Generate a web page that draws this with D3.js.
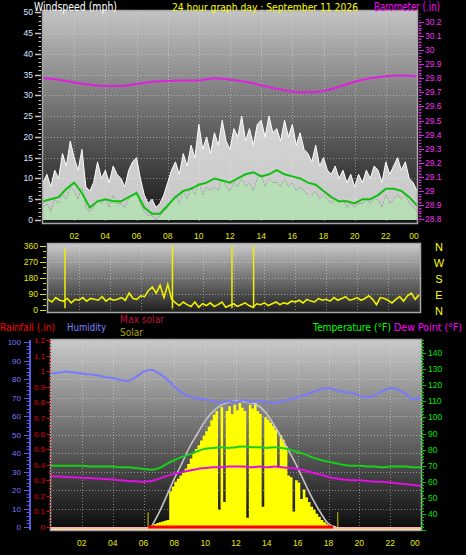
<!DOCTYPE html>
<html><head><meta charset="utf-8">
<script src="https://cdn.jsdelivr.net/npm/d3@7"></script>
<style>
html,body{margin:0;padding:0;background:#000;}
svg{display:block;}
text{font-family:"Liberation Sans","Arial",sans-serif;}
.hd{font-family:"Liberation Sans Narrow","Arial Narrow","DejaVu Sans Condensed",sans-serif;}
</style></head><body>
<svg id="c" width="466" height="555"></svg>
<script>
// ---------------- data ----------------
const hourLabels = ["02","04","06","08","10","12","14","16","18","20","22","00"];
const labelHours = [2,4,6,8,10,12,14,16,18,20,22,24];
const windTicks = [0,5,10,15,20,25,30,35,40,45,50];
const baroTicks = [28.8,28.9,29,29.1,29.2,29.3,29.4,29.5,29.6,29.7,29.8,29.9,30,30.1,30.2];
const dirTicks = [0,90,180,270,360];
const compass = ["N","W","S","E","N"];
const humTicks = [0,10,20,30,40,50,60,70,80,90,100];
const rainTicks = [0,0.1,0.2,0.3,0.4,0.5,0.6,0.7,0.8,0.9,1,1.1,1.2];
const tempTicks = [40,50,60,70,80,90,100,110,120,130,140];

const windStepHours = 0.25;
const windGust = [
 9,11,8,12, 10,16,13,19, 15,12,17,8, 7,9,14,10, 12,9,13,11, 10,8,12,14,
 15,10,6,4, 5,3,4,6, 9,12,14,11, 16,13,18,15, 23,17,20,16, 21,18,24,19,
 17,22,20,25, 19,22,18,23, 24,20,25,21, 22,19,24,20, 23,18,21,17, 16,14,18,13,
 15,12,11,13, 10,12,9,11, 8,11,9,12, 10,13,12,9, 14,11,13,15, 12,14,10,9, 7];
const windSpeed = [
 3,4,2,5, 4,6,5,8, 7,5,8,3, 2,3,5,4, 5,3,6,4, 4,3,5,6,
 7,4,2,1, 1,0,1,2, 3,5,6,4, 7,5,8,6, 9,6,8,7, 8,7,10,8,
 7,9,8,10, 8,9,7,10, 11,8,10,9, 9,8,10,8, 9,7,8,7, 6,6,7,5,
 6,5,4,5, 4,5,3,4, 3,4,4,5, 4,5,5,3, 6,4,5,6, 5,6,4,3, 2];
const avgStepHours = 0.5;
const windAvg = [4.5,5,5.5,7.5,9,6.5,3,4.5,5,4.5,4.5,5.5,6.5,3,1.5,1.5,3.5,5.5,7,7.5,8.5,9,10,9.5,9,10,11,11.5,10.5,11,12,11,10.5,10,9,8.5,7,5.5,4.5,4.5,4,5,5,6,7.5,7.5,7,5.5,3.5];
const baroStepHours = 1;
const barometer = [29.80,29.79,29.77,29.755,29.745,29.745,29.76,29.775,29.78,29.785,29.785,29.80,29.79,29.775,29.75,29.725,29.705,29.70,29.71,29.74,29.775,29.80,29.815,29.82,29.815];

const dirStepHours = 0.25;
const windDir = [
 60,45,70,55, 50,65,40,60, 55,70,50,65, 60,55,75,50, 65,55,60,70, 55,95,65,60,
 80,75,110,130, 95,140,70,145, 60,40,25,45, 30,20,45,15, 35,25,40,20, 30,45,15,25,
 35,20,30,40, 25,15,35,30, 40,25,35,45, 30,40,35,50, 45,55,40,60, 50,45,65,55,
 60,50,70,55, 65,75,55,60, 70,55,65,80, 60,30,70,65, 55,40,60,75, 50,80,95,60, 85];
const dirWrapHours = [1.1, 8.05, 11.9, 13.3];
const dirWrapValues = [345, 360, 360, 360];

const humStepHours = 0.5;
const humidity = [83,83.5,84,83.5,83,82.5,82,81,80.5,79.5,79,81,84,85,83,80,76,72.5,70.5,69.5,69,68,67,68,67.5,68.5,67.5,68,67.5,67,68,69,70,71.5,73,74.5,75,74,73,72.5,71,70,71,73.5,75,74.5,72,69,70];
const temperature = [70,70,70,70,70,69.5,69.5,69.5,69.5,69,69,68.5,68,67.5,68.5,71,73.5,75.5,77,79,80.5,81,81.5,81,81.5,82,81.5,81.5,81,81.5,81,80,78.5,77,75,73.5,72.5,71.5,70.5,70,70,69.5,69.5,69,69.5,69.5,69.5,69,69];
const dewPoint = [63.5,63.3,63,62.8,62.5,62.3,62,61.8,61.5,61,60.5,60.3,60,60.5,62,63.5,65,66,67,68,68.5,69,69,69.5,69.5,69.5,69,69.5,69,69.5,69,68.5,68,67,65.5,64.5,63,62,61.5,61,61,60.5,60,60,59.5,59,58.5,58,57.5];
const maxSolarHours = [6.5,7,7.5,8,8.5,9,9.5,10,10.5,11,11.5,12,12.5,13,13.5,14,14.5,15,15.5,16,16.5,17,17.5,18,18.5];
const maxSolar = [0,90,200,310,410,515,600,680,740,780,800,808,805,795,775,725,650,565,475,380,275,175,90,20,0];
const solarStartHour = 6.5;
const solarStepHours = 1/6;
const solar = [10,20,25,30,35,40,45,230,260,290,310,330,350,375,405,440,470,500,525,555,585,615,645,685,720,745,110,770,160,745,775,725,785,750,795,765,745,60,785,760,800,745,725,130,705,690,670,650,625,380,590,560,520,330,320,100,300,285,180,240,190,160,130,110,85,65,45,30,18,8,3,0];
const sunMarkHours = [6.3, 18.6];
const rainHours = [6.3, 18.3];
const rainfall = [0, 0];

// ---------------- layout ----------------
const svg = d3.select("#c");
const defs = svg.append("defs");
function grad(id, y1, y2, c1, c2){
  const g = defs.append("linearGradient").attr("id",id).attr("gradientUnits","userSpaceOnUse")
    .attr("x1",0).attr("x2",0).attr("y1",y1).attr("y2",y2);
  g.append("stop").attr("offset",0).attr("stop-color",c1);
  g.append("stop").attr("offset",1).attr("stop-color",c2);
}
function clip(id,x,y,w,h){ defs.append("clipPath").attr("id",id).append("rect").attr("x",x).attr("y",y).attr("width",w).attr("height",h); }

const P1 = {x:42,y:10,w:376,h:214};
const P2 = {x:47,y:243,w:374,h:70};
const P3 = {x:50,y:339,w:372,h:192};
grad("g1",P1.y,P1.y+P1.h,"#c4c4c4","#121212");
grad("g2",P2.y,P2.y+P2.h,"#cccccc","#1c1c1c");
grad("g3",P3.y,P3.y+P3.h,"#cacaca","#0a0a0a");
clip("c1",P1.x,P1.y,P1.w,P1.h); clip("c2",P2.x,P2.y,P2.w,P2.h); clip("c3",P3.x,P3.y,P3.w,P3.h);

const xT = d3.scaleLinear().domain([0,24]).range([43,417]);
const xM = d3.scaleLinear().domain([0,24]).range([48,419]);
const xB = d3.scaleLinear().domain([0,24]).range([51,421]);
const yW = d3.scaleLinear().domain([0,50]).range([220,12.3]);
const yBaro = d3.scaleLinear().domain([28.8,30.2]).range([219,22]);
const yD = d3.scaleLinear().domain([0,360]).range([310,246]);
const yH = d3.scaleLinear().domain([0,100]).range([527,342]);
const yR = d3.scaleLinear().domain([0,1.2]).range([527,340]);
const yT = d3.scaleLinear().domain([40,140]).range([514,353]);
const yS = d3.scaleLinear().domain([0,1200]).range([527,340]);

function panel(P, g, xs, ys, yticks){
  svg.append("rect").attr("x",P.x).attr("y",P.y).attr("width",P.w).attr("height",P.h).attr("fill","url(#"+g+")");
  const gg = svg.append("g").attr("stroke","rgba(235,235,235,0.45)").attr("stroke-dasharray","1,2").attr("stroke-width",1);
  yticks.forEach(v=>{ const y=Math.round(ys(v))+0.5; gg.append("line").attr("x1",P.x).attr("x2",P.x+P.w).attr("y1",y).attr("y2",y); });
  labelHours.slice(0,11).forEach(h=>{ const x=Math.round(xs(h))+0.5; gg.append("line").attr("x1",x).attr("x2",x).attr("y1",P.y).attr("y2",P.y+P.h); });
}
function frame(P){
  svg.append("rect").attr("x",P.x+0.5).attr("y",P.y+0.5).attr("width",P.w-1).attr("height",P.h-1)
    .attr("fill","none").attr("stroke","#a8a8a8").attr("stroke-width",1.5);
}

// ---------------- top panel ----------------
panel(P1,"g1",xT,yW,windTicks.slice(1,10));
const t1 = svg.append("g").attr("clip-path","url(#c1)");
t1.append("path").datum(windGust)
  .attr("d", d3.area().x((d,i)=>xT(i*windStepHours)).y0((d,i)=>yW(windSpeed[i])).y1(d=>yW(d)))
  .attr("fill","rgba(238,238,238,0.82)");
t1.append("path").datum(windGust)
  .attr("d", d3.line().x((d,i)=>xT(i*windStepHours)).y(d=>yW(d)))
  .attr("fill","none").attr("stroke","#ffffff").attr("stroke-width",1);
t1.append("path").datum(windSpeed)
  .attr("d", d3.area().x((d,i)=>xT(i*windStepHours)).y0(yW(0)).y1(d=>yW(d)))
  .attr("fill","#c4eec4").attr("opacity",0.92);
t1.append("path").datum(windAvg)
  .attr("d", d3.line().x((d,i)=>xT(i*avgStepHours)).y(d=>yW(d)))
  .attr("fill","none").attr("stroke","#10c010").attr("stroke-width",2);
t1.append("path").datum(barometer)
  .attr("d", d3.line().curve(d3.curveMonotoneX).x((d,i)=>xT(i*baroStepHours)).y(d=>yBaro(d)))
  .attr("fill","none").attr("stroke","#e020e0").attr("stroke-width",2);
frame(P1);

// left wind axis
const la = svg.append("g");
d3.range(0,51,1).forEach(v=>{
  const y=Math.round(yW(v))+0.5, major = v%5===0;
  la.append("line").attr("x1",major?35:38.5).attr("x2",41).attr("y1",y).attr("y2",y).attr("stroke","#c8c8c8").attr("stroke-width",major?1.5:1);
});
windTicks.forEach(v=>{
  la.append("text").attr("x",33).attr("y",yW(v)+3).attr("text-anchor","end").attr("font-size",8.5).attr("fill","#dce6ff").text(v);
});
// right barometer axis
const ra = svg.append("g");
ra.append("line").attr("x1",420).attr("x2",420).attr("y1",14).attr("y2",222).attr("stroke","#e020e0").attr("stroke-dasharray","1,2");
d3.range(0,71).forEach(k=>{
  const v = 28.8 + k*0.02, y=Math.round(yBaro(v))+0.5, major = k%5===0;
  ra.append("line").attr("x1",419).attr("x2",major?424:421.5).attr("y1",y).attr("y2",y).attr("stroke","#e020e0").attr("stroke-width",1);
});
baroTicks.forEach(v=>{
  ra.append("text").attr("x",425).attr("y",yBaro(v)+3).attr("font-size",8.5).attr("fill","#f030f0").text(d3.format("~g")(v));
});

// headers top
svg.append("text").attr("class","hd").attr("x",34).attr("y",11).attr("font-size",12).attr("fill","#ffffff").attr("textLength",83).attr("lengthAdjust","spacingAndGlyphs").text("Windspeed (mph)");
svg.append("text").attr("class","hd").attr("x",172).attr("y",11).attr("font-size",11).attr("fill","#ffff00").attr("textLength",186).attr("lengthAdjust","spacingAndGlyphs").text("24 hour graph day : September 11 2026");
svg.append("text").attr("class","hd").attr("x",374).attr("y",11).attr("font-size",12).attr("fill","#ff00ff").attr("textLength",66).attr("lengthAdjust","spacingAndGlyphs").text("Barometer (.in)");

// x labels (shared row)
labelHours.forEach((h,i)=>{
  svg.append("text").attr("x",Math.min(xT(h),414)).attr("y",239).attr("text-anchor","middle").attr("font-size",8.5).attr("fill","#e8e800").text(hourLabels[i]);
});

// ---------------- middle panel ----------------
panel(P2,"g2",xM,yD,dirTicks.slice(1,4));
const t2 = svg.append("g").attr("clip-path","url(#c2)");
t2.append("path").datum(windDir)
  .attr("d", d3.line().x((d,i)=>xM(i*dirStepHours)).y(d=>yD(d)))
  .attr("fill","none").attr("stroke","#f0f000").attr("stroke-width",1.6);
dirWrapHours.forEach((h,i)=>{
  t2.append("line").attr("x1",xM(h)).attr("x2",xM(h)).attr("y1",yD(10)).attr("y2",yD(dirWrapValues[i])).attr("stroke","#f0f000").attr("stroke-width",1.5);
});
frame(P2);
const ma = svg.append("g");
d3.range(0,361,30).forEach(v=>{
  const y=Math.round(yD(v))+0.5, major = v%90===0;
  ma.append("line").attr("x1",major?40:43).attr("x2",46).attr("y1",y).attr("y2",y).attr("stroke","#e0e000").attr("stroke-width",1);
});
dirTicks.forEach(v=>{
  ma.append("text").attr("x",38).attr("y",yD(v)+3).attr("text-anchor","end").attr("font-size",8.5).attr("fill","#e8e800").text(v);
});
compass.forEach((c,i)=>{
  svg.append("text").attr("x",439).attr("y",yD(dirTicks[4-i])+4.5).attr("text-anchor","middle").attr("font-size",11).attr("fill","#ffff00").text(c);
});

// ---------------- bottom panel ----------------
panel(P3,"g3",xB,yH,humTicks.slice(1,10));
const t3 = svg.append("g").attr("clip-path","url(#c3)");
// base bands
t3.append("line").attr("x1",P3.x).attr("x2",P3.x+P3.w).attr("y1",yR(0)+1).attr("y2",yR(0)+1).attr("stroke","#ffb4b4").attr("stroke-width",2);
t3.append("line").attr("x1",P3.x).attr("x2",P3.x+P3.w).attr("y1",yR(0)+3).attr("y2",yR(0)+3).attr("stroke","#ffff90").attr("stroke-width",2);
// solar (stepped area)
t3.append("path").datum(solar)
  .attr("d", d3.area().curve(d3.curveStepAfter)
     .x((d,i)=>xB(solarStartHour + i*solarStepHours)).y0(yS(0)).y1(d=>yS(d)))
  .attr("fill","#ffff00");
sunMarkHours.forEach(h=>{
  t3.append("line").attr("x1",xB(h)).attr("x2",xB(h)).attr("y1",yS(0)).attr("y2",yS(95)).attr("stroke","#b0b000").attr("stroke-width",1.2);
});
t3.append("path").datum(maxSolar)
  .attr("d", d3.line().curve(d3.curveMonotoneX).x((d,i)=>xB(maxSolarHours[i])).y(d=>yS(d)))
  .attr("fill","none").attr("stroke","#c4c4c4").attr("stroke-width",1.6);
t3.append("path").datum(humidity)
  .attr("d", d3.line().curve(d3.curveMonotoneX).x((d,i)=>xB(i*humStepHours)).y(d=>yH(d)))
  .attr("fill","none").attr("stroke","#7a7aff").attr("stroke-width",2);
t3.append("path").datum(temperature)
  .attr("d", d3.line().curve(d3.curveMonotoneX).x((d,i)=>xB(i*humStepHours)).y(d=>yT(d)))
  .attr("fill","none").attr("stroke","#18d018").attr("stroke-width",2);
t3.append("path").datum(dewPoint)
  .attr("d", d3.line().curve(d3.curveMonotoneX).x((d,i)=>xB(i*humStepHours)).y(d=>yT(d)))
  .attr("fill","none").attr("stroke","#e010e0").attr("stroke-width",2);
t3.append("path").datum(rainfall)
  .attr("d", d3.line().x((d,i)=>xB(rainHours[i])).y(d=>yR(d)))
  .attr("fill","none").attr("stroke","#ff0000").attr("stroke-width",3);
frame(P3);

// humidity axis
const ha = svg.append("g");
ha.append("line").attr("x1",30).attr("x2",30).attr("y1",340).attr("y2",530).attr("stroke","#5a5ae8").attr("stroke-width",2);
d3.range(0,101,2).forEach(v=>{
  const y=Math.round(yH(v))+0.5, major=v%10===0;
  ha.append("line").attr("x1",major?24:26.5).attr("x2",30).attr("y1",y).attr("y2",y).attr("stroke","#5a5ae8").attr("stroke-width",1);
});
humTicks.forEach(v=>{
  ha.append("text").attr("x",21).attr("y",yH(v)+3).attr("text-anchor","end").attr("font-size",8).attr("fill","#7878ff").text(v);
});
// rain axis
const rax = svg.append("g");
rax.append("line").attr("x1",50.5).attr("x2",50.5).attr("y1",340).attr("y2",528).attr("stroke","#e00000").attr("stroke-dasharray","1,2");
d3.range(0,25).forEach(k=>{
  const v=k*0.05, y=Math.round(yR(v))+0.5, major=k%2===0;
  rax.append("line").attr("x1",major?46.5:48.5).attr("x2",50).attr("y1",y).attr("y2",y).attr("stroke","#e00000").attr("stroke-width",1);
});
rainTicks.forEach(v=>{
  rax.append("text").attr("x",45).attr("y",yR(v)+3).attr("text-anchor","end").attr("font-size",8).attr("fill","#e00000").text(d3.format("~g")(v));
});
// temperature axis
const tax = svg.append("g");
tax.append("line").attr("x1",422.5).attr("x2",422.5).attr("y1",340).attr("y2",529).attr("stroke","#00c000").attr("stroke-dasharray","1,2");
d3.range(30,149,2).forEach(v=>{
  const y=Math.round(yT(v))+0.5, major=v%10===0;
  tax.append("line").attr("x1",421).attr("x2",major?426:424).attr("y1",y).attr("y2",y).attr("stroke","#00c000").attr("stroke-width",1);
});
tempTicks.forEach(v=>{
  tax.append("text").attr("x",428).attr("y",yT(v)+3).attr("font-size",8.5).attr("fill","#00e000").text(v);
});
// bottom x labels
labelHours.forEach((h,i)=>{
  svg.append("text").attr("x",Math.min(xB(h),415)).attr("y",546).attr("text-anchor","middle").attr("font-size",8.5).attr("fill","#e8e800").text(hourLabels[i]);
});
// bottom headers
const hdr = [
  {t:"Rainfall (.in)", x:0, y:331, w:55, c:"#ff0000", s:11},
  {t:"Humidity", x:67, y:331, w:39, c:"#8080ff", s:11},
  {t:"Max solar", x:120, y:323, w:44, c:"#c01040", s:10},
  {t:"Solar", x:120, y:336, w:23, c:"#a8a800", s:10},
  {t:"Temperature (°F)", x:313, y:331, w:78, c:"#00ff00", s:11},
  {t:"Dew Point (°F)", x:394, y:331, w:68, c:"#ff00ff", s:11}
];
hdr.forEach(d=>{
  svg.append("text").attr("class","hd").attr("x",d.x).attr("y",d.y).attr("font-size",d.s).attr("fill",d.c)
    .attr("textLength",d.w).attr("lengthAdjust","spacingAndGlyphs").text(d.t);
});
</script>
</body></html>
